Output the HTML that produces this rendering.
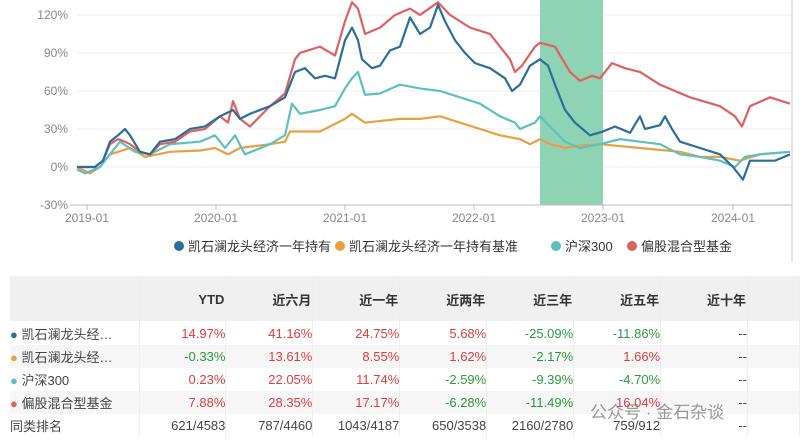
<!DOCTYPE html>
<html><head><meta charset="utf-8"><style>
body{margin:0;width:800px;height:440px;background:#fff;overflow:hidden;font-family:"Liberation Sans","Noto Sans CJK SC",sans-serif}
.ax{font-size:12px;fill:#888}
table{position:absolute;left:10px;top:276px;border-collapse:collapse;font-size:13px;table-layout:fixed}
td{height:23px;padding:0;text-align:right;border-right:1px solid #eee;white-space:nowrap;overflow:hidden}
th{height:44px;text-align:right;font-size:13px;color:#333;font-weight:bold;border-right:1px solid #eee}
.r{color:#e03c3c}.g{color:#2a9a3a}.n{color:#444}
tr.alt td{background:#f6f6f6}
</style></head><body>
<svg width="800" height="270" style="position:absolute;left:0;top:0">
<g stroke="#eee" stroke-width="1">
<line x1="77" x2="792" y1="15" y2="15"/><line x1="77" x2="792" y1="53" y2="53"/><line x1="77" x2="792" y1="91" y2="91"/><line x1="77" x2="792" y1="129" y2="129"/><line x1="77" x2="792" y1="167" y2="167"/>
</g>
<rect x="540" y="0" width="63" height="205" fill="#8fd3b5"/>
<line x1="70" x2="792" y1="205" y2="205" stroke="#bbb"/>
<line x1="792" x2="792" y1="0" y2="262" stroke="#ccc"/>
<g stroke="#bbb"><line x1="87" x2="87" y1="205" y2="210"/><line x1="216" x2="216" y1="205" y2="210"/><line x1="345" x2="345" y1="205" y2="210"/><line x1="474" x2="474" y1="205" y2="210"/><line x1="603" x2="603" y1="205" y2="210"/><line x1="733" x2="733" y1="205" y2="210"/></g>
<g class="ax" text-anchor="end"><text x="68" y="19">120%</text><text x="68" y="57">90%</text><text x="68" y="95">60%</text><text x="68" y="133">30%</text><text x="68" y="171">0%</text><text x="68" y="209">-30%</text></g>
<g class="ax" text-anchor="middle"><text x="87" y="222">2019-01</text><text x="216" y="222">2020-01</text><text x="345" y="222">2021-01</text><text x="474" y="222">2022-01</text><text x="603" y="222">2023-01</text><text x="733" y="222">2024-01</text></g>
<g transform="matrix(1 0 0 -1.267 0 167)" fill="none" stroke-width="2.2" stroke-linejoin="round">
<polyline vector-effect="non-scaling-stroke" stroke="#e8a040" points="77,0 90,-5 100,0 110,10 130,15 145,8 170,12 200,13 215,15 228,10 240,15 270,18 285,20 290,28 320,28 345,38 352,42 365,35 400,38 420,38 440,40 460,35 480,30 500,25 520,22 530,18 540,22 550,18 565,15 580,17 600,18 640,15 680,12 700,8 720,8 740,5 760,10 790,12"/>
<polyline vector-effect="non-scaling-stroke" stroke="#5cc0c0" points="77,-2 85,-5 100,0 110,10 120,20 135,12 150,10 170,18 200,20 215,25 225,15 235,25 245,10 270,18 285,25 292,50 300,42 320,45 335,48 345,62 352,70 358,75 365,57 380,58 400,65 420,62 440,60 460,55 480,50 500,40 515,35 520,30 535,35 540,40 555,28 565,20 580,15 600,18 620,22 640,20 660,18 680,10 700,8 720,5 735,0 745,8 760,10 790,12"/>
<polyline vector-effect="non-scaling-stroke" stroke="#e06060" points="77,0 95,0 103,5 110,18 118,22 125,20 130,18 140,12 150,10 160,18 175,20 190,28 205,30 220,40 228,35 233,52 240,38 250,32 270,48 285,58 295,85 300,90 320,95 335,88 345,115 352,130 358,125 365,105 380,110 395,120 410,125 420,120 438,130 450,120 470,110 490,105 500,95 510,85 515,75 522,80 535,95 540,98 555,95 570,75 580,68 592,72 600,70 612,82 625,78 640,75 660,65 690,55 720,48 735,40 742,32 750,48 770,55 790,50"/>
<polyline vector-effect="non-scaling-stroke" stroke="#2a6e9a" points="77,0 95,0 103,5 110,20 118,25 125,30 130,25 140,12 150,10 160,20 175,22 190,30 205,32 220,40 233,45 240,38 250,42 270,48 285,55 295,75 305,78 315,70 325,72 335,70 345,100 352,110 358,100 362,85 372,78 380,80 390,92 400,95 410,118 420,105 430,110 438,128 445,115 455,100 465,90 475,82 490,78 505,70 512,60 520,65 530,80 540,85 548,80 555,65 565,45 575,35 590,25 603,28 615,32 630,27 640,40 645,30 660,33 665,40 672,30 680,20 700,15 720,10 733,0 743,-10 750,5 760,5 775,5 790,10"/>
</g>
<g font-size="13" fill="#333">
<circle cx="179" cy="246" r="5" fill="#2a6e9a"/><text x="188" y="251">凯石澜龙头经济一年持有</text>
<circle cx="340" cy="246" r="5" fill="#e8a040"/><text x="349" y="251">凯石澜龙头经济一年持有基准</text>
<circle cx="556" cy="246" r="5" fill="#5cc0c0"/><text x="565" y="251">沪深300</text>
<circle cx="632" cy="246" r="5" fill="#e06060"/><text x="641" y="251">偏股混合型基金</text>
</g>
</svg>
<div style="position:absolute;left:10px;top:276px;width:790px;height:45px;background:#f0f0f0"></div>
<table>
<colgroup><col style="width:130px"><col style="width:86px"><col style="width:87px"><col style="width:87px"><col style="width:87px"><col style="width:87px"><col style="width:87px"><col style="width:87px"><col style="width:52px"></colgroup>
<tr><th></th><th>YTD</th><th>近六月</th><th>近一年</th><th>近两年</th><th>近三年</th><th>近五年</th><th>近十年</th><th></th></tr>
<tr><td style="text-align:left" class="n"><span style="color:#2a6e9a">●</span> 凯石澜龙头经…</td><td class="r">14.97%</td><td class="r">41.16%</td><td class="r">24.75%</td><td class="r">5.68%</td><td class="g">-25.09%</td><td class="g">-11.86%</td><td class="n">--</td><td></td></tr>
<tr class="alt"><td style="text-align:left" class="n"><span style="color:#e8a040">●</span> 凯石澜龙头经…</td><td class="g">-0.33%</td><td class="r">13.61%</td><td class="r">8.55%</td><td class="r">1.62%</td><td class="g">-2.17%</td><td class="r">1.66%</td><td class="n">--</td><td></td></tr>
<tr><td style="text-align:left" class="n"><span style="color:#5cc0c0">●</span> 沪深300</td><td class="r">0.23%</td><td class="r">22.05%</td><td class="r">11.74%</td><td class="g">-2.59%</td><td class="g">-9.39%</td><td class="g">-4.70%</td><td class="n">--</td><td></td></tr>
<tr class="alt"><td style="text-align:left" class="n"><span style="color:#e06060">●</span> 偏股混合型基金</td><td class="r">7.88%</td><td class="r">28.35%</td><td class="r">17.17%</td><td class="g">-6.28%</td><td class="g">-11.49%</td><td class="r">16.04%</td><td class="n">--</td><td></td></tr>
<tr><td style="text-align:left" class="n">同类排名</td><td class="n">621/4583</td><td class="n">787/4460</td><td class="n">1043/4187</td><td class="n">650/3538</td><td class="n">2160/2780</td><td class="n">759/912</td><td class="n">--</td><td></td></tr>
</table>
<div style="position:absolute;left:590px;top:398px;font-size:17px;color:rgba(120,120,120,0.75)">公众号 · 金石杂谈</div>
</body></html>
